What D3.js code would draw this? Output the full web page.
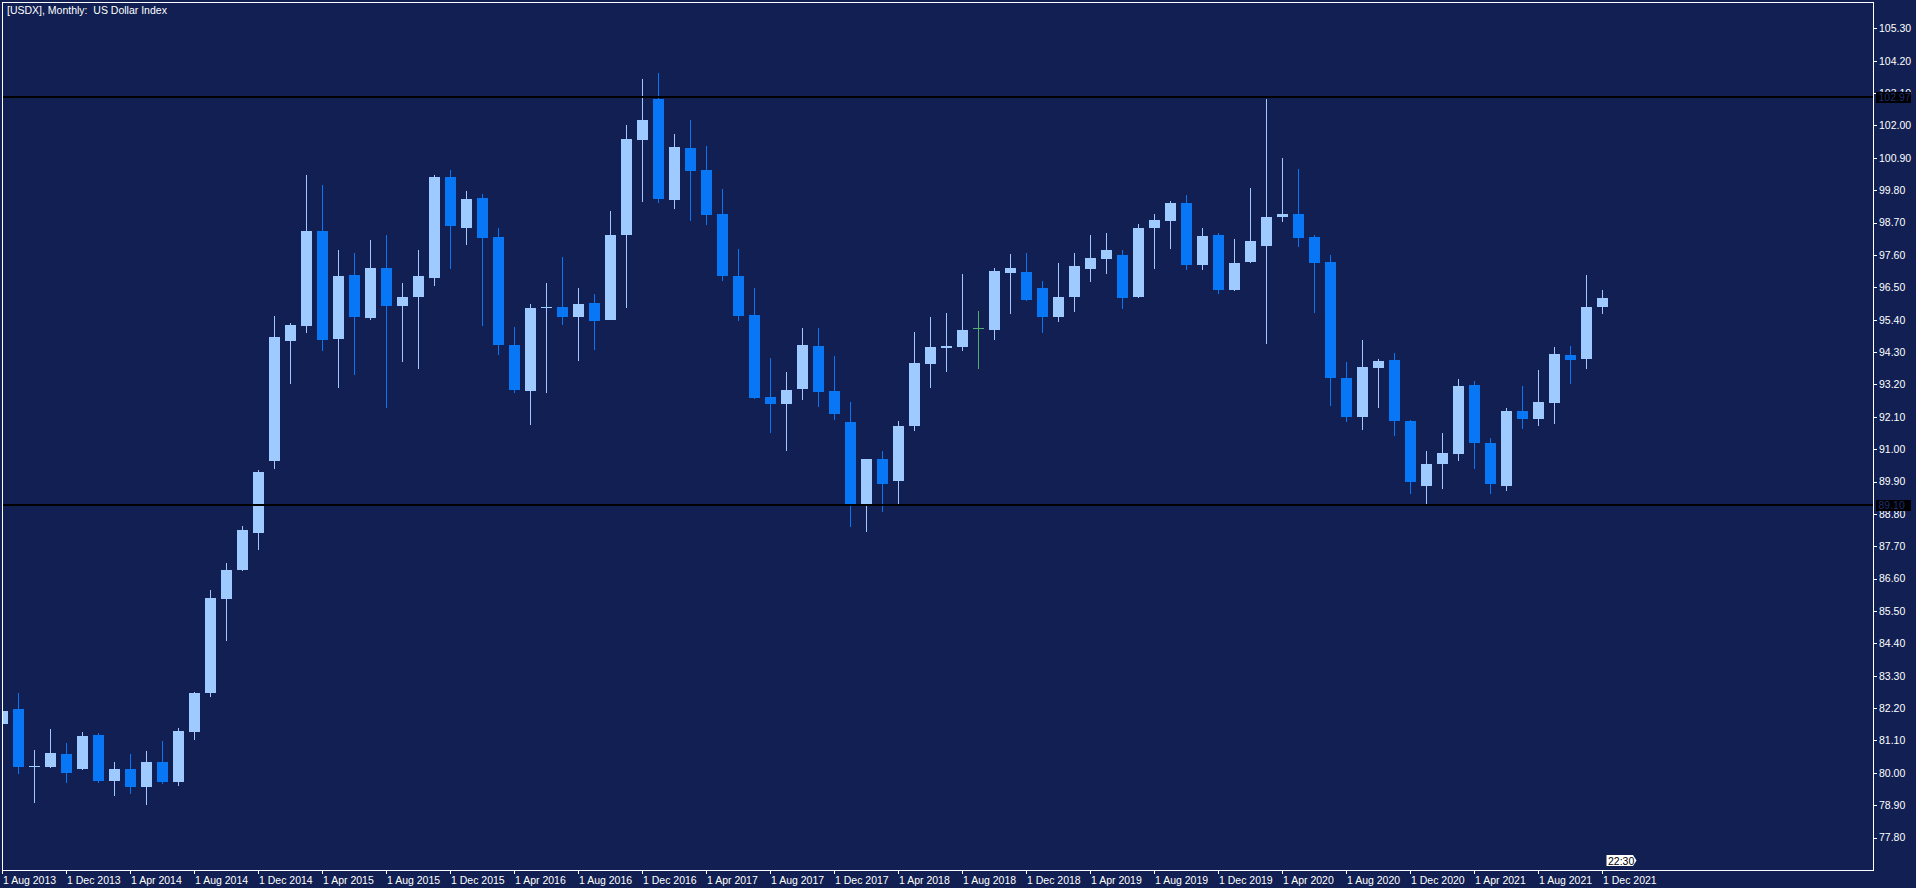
<!DOCTYPE html>
<html><head><meta charset="utf-8">
<script src="https://cdn.jsdelivr.net/npm/d3@7"></script>
<style>
html,body{margin:0;padding:0;background:#111f52;overflow:hidden}
svg{display:block}
text{font-family:'Liberation Sans Narrow','Liberation Sans',Arial,sans-serif;font-size:10.5px}
</style></head><body>
<svg id="chart" width="1916" height="888"></svg>
<script>
// ---- data ----
const title = "[USDX], Monthly:  US Dollar Index";
const months = [
"2013-08","2013-09","2013-10","2013-11","2013-12",
"2014-01","2014-02","2014-03","2014-04","2014-05","2014-06","2014-07","2014-08","2014-09","2014-10","2014-11","2014-12",
"2015-01","2015-02","2015-03","2015-04","2015-05","2015-06","2015-07","2015-08","2015-09","2015-10","2015-11","2015-12",
"2016-01","2016-02","2016-03","2016-04","2016-05","2016-06","2016-07","2016-08","2016-09","2016-10","2016-11","2016-12",
"2017-01","2017-02","2017-03","2017-04","2017-05","2017-06","2017-07","2017-08","2017-09","2017-10","2017-11","2017-12",
"2018-01","2018-02","2018-03","2018-04","2018-05","2018-06","2018-07","2018-08","2018-09","2018-10","2018-11","2018-12",
"2019-01","2019-02","2019-03","2019-04","2019-05","2019-06","2019-07","2019-08","2019-09","2019-10","2019-11","2019-12",
"2020-01","2020-02","2020-03","2020-04","2020-05","2020-06","2020-07","2020-08","2020-09","2020-10","2020-11","2020-12",
"2021-01","2021-02","2021-03","2021-04","2021-05","2021-06","2021-07","2021-08","2021-09","2021-10","2021-11","2021-12"];
const open = [
81.67,82.17,80.20,80.20,80.64,
80.13,81.28,79.72,80.13,79.52,80.37,79.69,81.39,82.71,85.91,86.90,88.14,
90.58,94.69,95.20,98.41,94.75,96.92,95.46,97.16,95.87,96.18,96.82,100.25,
98.52,99.53,98.21,94.55,92.99,95.78,95.84,95.50,95.97,95.40,98.28,101.50,
102.89,99.47,101.23,100.48,98.99,96.89,95.56,92.78,92.55,93.05,94.51,92.99,
91.93,89.12,90.65,89.93,91.80,93.90,94.45,94.48,95.11,95.06,96.99,97.02,
96.48,95.50,96.18,97.12,97.46,97.60,96.18,98.52,98.75,99.36,97.26,98.28,
96.41,97.36,97.91,98.89,98.99,98.21,97.36,93.43,92.10,93.77,94.04,91.97,
89.76,90.51,90.85,93.19,91.22,89.76,92.31,92.04,92.58,94.21,94.07,95.84];
const high = [
82.30,82.71,80.77,81.49,81.01,
81.39,81.35,80.37,80.64,80.74,81.08,81.52,82.75,86.21,87.12,88.40,90.29,
95.52,95.30,100.31,99.97,97.77,97.67,98.11,98.28,96.65,97.77,100.31,100.48,
99.77,99.67,98.52,95.16,95.94,96.65,97.53,96.48,96.28,99.09,102.01,103.57,
103.77,101.70,102.18,101.30,99.84,97.80,96.48,94.11,93.63,95.12,95.12,94.17,
92.61,90.68,90.92,91.97,94.99,95.50,95.63,96.96,95.70,97.16,97.63,97.67,
96.72,97.33,97.67,98.28,98.35,97.77,98.65,98.99,99.43,99.63,98.52,98.35,
98.14,99.87,102.89,100.89,100.52,98.28,97.60,93.97,94.72,94.07,94.28,91.99,
90.92,91.56,93.39,93.33,91.39,92.41,93.16,93.70,94.48,94.51,96.92,96.41];
const low = [
81.20,79.96,78.98,80.15,79.64,
80.10,79.66,79.21,79.28,78.91,79.62,79.55,81.11,82.58,84.48,86.86,87.58,
90.31,93.20,94.96,94.34,93.09,93.53,95.39,92.41,93.97,93.73,96.55,97.12,
97.94,95.19,94.21,92.92,91.83,92.92,95.23,94.00,94.38,95.38,95.80,99.40,
99.36,99.16,98.75,98.62,96.72,95.36,92.72,91.56,90.95,92.68,92.44,92.00,
88.37,88.20,88.88,89.15,91.60,93.09,93.63,94.34,93.73,94.72,95.60,96.04,
94.95,95.33,95.67,96.68,96.96,95.77,96.15,97.12,97.80,97.09,97.09,96.28,
96.38,97.33,94.58,98.72,97.87,95.63,92.48,91.93,91.66,92.41,91.43,89.46,
89.15,89.63,90.58,90.34,89.46,89.59,91.70,91.77,91.87,93.22,93.73,95.60];
const close = [
82.10,80.20,80.22,80.67,80.00,
81.25,79.72,80.13,79.52,80.37,79.69,81.42,82.71,85.94,86.91,88.24,90.24,
94.81,95.22,98.41,94.72,96.89,95.50,97.16,95.87,96.18,96.89,100.25,98.58,
99.50,98.18,94.55,93.02,95.80,95.84,95.50,95.94,95.36,98.28,101.53,102.18,
99.50,101.26,100.45,98.96,96.89,95.53,92.75,92.55,93.02,94.55,92.95,92.21,
89.12,90.65,89.83,91.80,93.94,94.48,94.50,95.06,95.11,97.06,97.16,96.07,
95.50,96.18,97.23,97.50,97.77,96.14,98.52,98.79,99.36,97.26,98.24,96.41,
97.33,98.07,98.89,98.99,98.18,97.33,93.43,92.10,93.80,94.00,91.97,89.90,
90.51,90.88,93.16,91.22,89.80,92.31,92.04,92.61,94.24,94.04,95.84,96.14];
const yTicks = [105.30,104.20,103.10,102.00,100.90,99.80,98.70,97.60,96.50,95.40,94.30,93.20,92.10,
91.00,89.90,88.80,87.70,86.60,85.50,84.40,83.30,82.20,81.10,80.00,78.90,77.80];
const xTickMonths = ["2013-08","2013-12","2014-04","2014-08","2014-12","2015-04","2015-08","2015-12",
"2016-04","2016-08","2016-12","2017-04","2017-08","2017-12","2018-04","2018-08","2018-12","2019-04",
"2019-08","2019-12","2020-04","2020-08","2020-12","2021-04","2021-08","2021-12"];
const levels = [102.97, 89.10];
const timeLabel = "22:30";

// ---- styles ----
const BG = "#111f52", BULL = "#9ecaff", BEAR = "#0777f6", DOJI = "#52b06e";

const svg = d3.select("#chart");
const W = 1916, H = 888;
const L = 2, T = 2, R = 1873, B = 870;

const x = d3.scalePoint().domain(months).range([2, 1602]);
const y = d3.scaleLinear().domain([77.8, 105.3]).range([837.6, 28.3]);

svg.append("rect").attr("width", W).attr("height", H).attr("fill", BG);

svg.append("defs").append("clipPath").attr("id", "plotclip")
  .append("rect").attr("x", L + 1).attr("y", T + 1).attr("width", R - L - 1).attr("height", B - T - 1);

const data = months.map((m, i) => ({ m, o: open[i], h: high[i], l: low[i], c: close[i] }));
const col = d => d.c > d.o ? BULL : (d.c < d.o ? BEAR : DOJI);

const plot = svg.append("g").attr("clip-path", "url(#plotclip)").attr("shape-rendering", "crispEdges");

plot.selectAll("rect.wick").data(data).join("rect").attr("class", "wick")
  .attr("x", d => Math.round(x(d.m)))
  .attr("width", 1)
  .attr("y", d => Math.round(y(d.h)))
  .attr("height", d => Math.max(1, Math.round(y(d.l)) - Math.round(y(d.h))))
  .attr("fill", col);

plot.selectAll("rect.body").data(data).join("rect").attr("class", "body")
  .attr("x", d => Math.round(x(d.m)) - 5)
  .attr("width", 11)
  .attr("y", d => Math.round(y(Math.max(d.o, d.c))))
  .attr("height", d => Math.max(1, Math.round(y(Math.min(d.o, d.c))) - Math.round(y(Math.max(d.o, d.c)))))
  .attr("fill", col);

// horizontal levels
plot.selectAll("rect.level").data(levels).join("rect").attr("class", "level")
  .attr("x", L + 1).attr("width", R - L - 1)
  .attr("y", d => Math.round(y(d)) - 1).attr("height", 2)
  .attr("fill", "#000");

// frame
svg.append("rect").attr("x", L + 0.5).attr("y", T + 0.5).attr("width", R - L).attr("height", B - T)
  .attr("fill", "none").attr("stroke", "#fff").attr("stroke-width", 1).attr("shape-rendering", "crispEdges");

// y axis
const yAxis = d3.axisRight(y).tickValues(yTicks).tickFormat(d3.format(".2f")).tickSize(4).tickPadding(2);
const gy = svg.append("g").attr("transform", `translate(${R},0)`).call(yAxis);
gy.select(".domain").remove();
gy.selectAll("line").attr("stroke", "#fff").attr("shape-rendering", "crispEdges");
gy.selectAll("text").attr("fill", "#fff").attr("font-family", null).attr("font-size", null);

// x axis
const fmt = d3.timeFormat("%-d %b %Y"), parse = d3.timeParse("%Y-%m");
const xAxis = d3.axisBottom(x).tickValues(xTickMonths).tickFormat(d => fmt(parse(d))).tickSize(4).tickPadding(2.5);
const gx = svg.append("g").attr("transform", `translate(0,${B})`).call(xAxis);
gx.select(".domain").remove();
gx.selectAll("line").attr("stroke", "#fff").attr("shape-rendering", "crispEdges");
gx.selectAll("text").attr("fill", "#fff").attr("text-anchor", "start").attr("x", 0.5)
  .attr("font-family", null).attr("font-size", null);

// level price boxes
const lv = svg.append("g");
lv.selectAll("rect").data(levels).join("rect")
  .attr("x", 1876).attr("width", 35)
  .attr("y", d => Math.round(y(d)) - 5).attr("height", 11)
  .attr("fill", "#000").attr("shape-rendering", "crispEdges");
lv.selectAll("text").data(levels).join("text")
  .attr("x", 1878.5).attr("y", d => Math.round(y(d)) + 0.5).attr("dy", "0.34em")
  .attr("fill", "#1c2d74").text(d => d3.format(".2f")(d));

// title
svg.append("text").attr("x", 7).attr("y", 13.5).attr("fill", "#fff")
  .style("white-space", "pre").attr("xml:space", "preserve").text(title);

// time label
const tx = Math.round(x(months[months.length - 1]));
const tl = svg.append("g");
tl.append("path")
  .attr("d", `M${tx + 4.5},855 H${tx + 31} L${tx + 34.5},860.5 L${tx + 31},866 H${tx + 4.5} Z`)
  .attr("fill", "#fff");
tl.append("text").attr("x", tx + 6).attr("y", 864.5).attr("fill", "#000").text(timeLabel);
</script>
</body></html>
